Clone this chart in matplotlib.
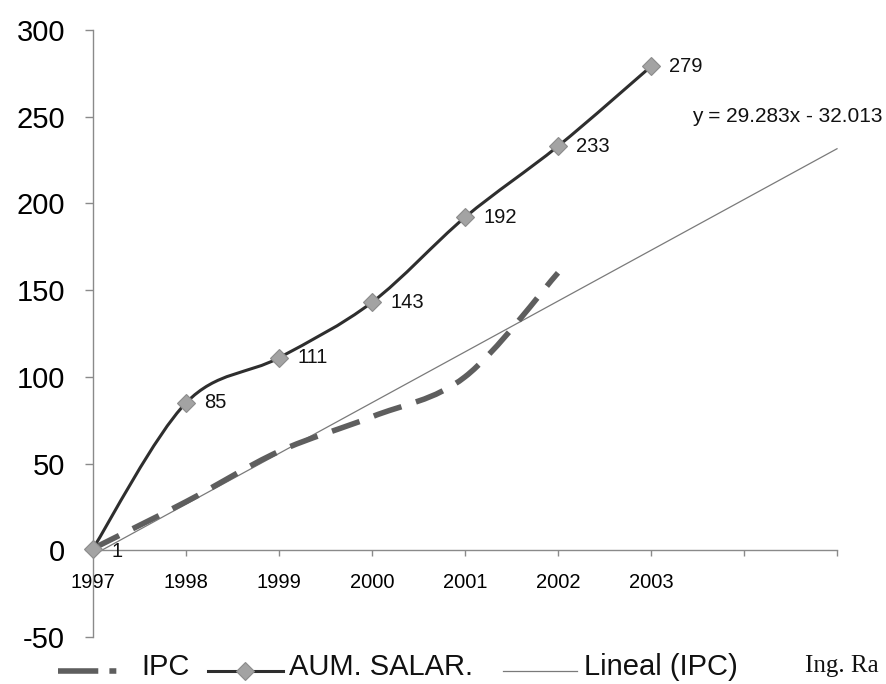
import numpy as np
import matplotlib
matplotlib.use("Agg")
import matplotlib.pyplot as plt
from matplotlib.path import Path
from matplotlib.patches import PathPatch
from matplotlib.lines import Line2D

plt.rcParams['font.family'] = ['Liberation Sans', 'DejaVu Sans']
plt.rcParams['lines.scale_dashes'] = False
plt.rcParams['axes.unicode_minus'] = False

# ---- data ----
years = ['1997', '1998', '1999', '2000', '2001', '2002', '2003']
year_pos = [1, 2, 3, 4, 5, 6, 7]
salary = [1, 85, 111, 143, 192, 233, 279]          # AUM. SALAR.
ipc_pos = [1, 2, 3, 4, 5, 6]
ipc = [1, 28, 57, 77, 100, 160]                     # IPC
trend_slope = 29.283
trend_intercept = -32.013
trend_range = [1, 9]                                # trendline incl. forecast
x_ticks = [1, 2, 3, 4, 5, 6, 7, 8, 9]
x_tick_labels = years + ['', '']
y_ticks = [-50, 0, 50, 100, 150, 200, 250, 300]
equation = 'y = 29.283x - 32.013'


def smooth_path(xs, ys):
    pts = np.column_stack([xs, ys]).astype(float)
    n = len(pts)
    verts = [pts[0]]
    codes = [Path.MOVETO]
    for i in range(n - 1):
        p0 = pts[i - 1] if i > 0 else pts[i]
        p1 = pts[i]
        p2 = pts[i + 1]
        p3 = pts[i + 2] if i + 2 < n else pts[i + 1]
        c1 = p1 + (p2 - p0) / 6.0
        c2 = p2 - (p3 - p1) / 6.0
        verts += [c1, c2, p2]
        codes += [Path.CURVE4] * 3
    return Path(verts, codes)


W, H = 887, 684
fig = plt.figure(figsize=(W / 100, H / 100), dpi=100)
ax = fig.add_axes([93 / W, 1 - 637 / H, (837 - 93) / W, (637 - 30) / H])
ax.set_xlim(1, 9)
ax.set_ylim(-50, 300)

axis_col = '#8a8a8a'
for s in ['top', 'right']:
    ax.spines[s].set_visible(False)
ax.spines['bottom'].set_position(('data', 0))
for s in ['left', 'bottom']:
    ax.spines[s].set_color(axis_col)
    ax.spines[s].set_linewidth(1.0)

ax.set_xticks(x_ticks)
ax.set_xticklabels(x_tick_labels)
ax.set_yticks(y_ticks)
ax.tick_params(axis='y', direction='out', length=6, width=1, color=axis_col,
               pad=14, labelsize=21)
ax.tick_params(axis='x', direction='out', length=4, width=1, color=axis_col,
               pad=12.5, labelsize=14.5)

# trendline
tx = np.array(trend_range, dtype=float)
ax.plot(tx, trend_slope * tx + trend_intercept, color='#7a7a7a', lw=0.9,
        zorder=2, clip_on=False)

# IPC smooth dashed line
ipc_patch = PathPatch(smooth_path(ipc_pos, ipc), fill=False, edgecolor='#5e5e5e',
                      lw=4.0, linestyle=(0, (21, 11)), capstyle='butt',
                      zorder=3, clip_on=False)
ax.add_patch(ipc_patch)

# Salary smooth line + markers
sal_patch = PathPatch(smooth_path(year_pos, salary), fill=False, edgecolor='#2e2e2e',
                      lw=2.2, zorder=4, clip_on=False)
ax.add_patch(sal_patch)
ax.plot(year_pos, salary, linestyle='none', marker='D', ms=9.5,
        markerfacecolor='#a3a3a3', markeredgecolor='#8c8c8c', mew=0.8,
        zorder=5, clip_on=False)

for xp, v in zip(year_pos, salary):
    dy = -2 if v < 5 else 0
    ax.annotate(str(v), (xp, v), xytext=(13, dy), textcoords='offset points',
                ha='left', va='center', fontsize=14.5, color='#111111', zorder=6)

ax.text(7.44, 250, equation, ha='left', va='center', fontsize=15, color='#111111')


# ---- manual legend (pixel positions) ----
def fx(x):
    return x / W


def fy(y):
    return 1 - y / H


yl = 671
fig.add_artist(Line2D([fx(58), fx(118)], [fy(yl), fy(yl)], color='#5e5e5e', lw=4.0,
                      linestyle=(0, (29, 8, 5, 40)), solid_capstyle='butt',
                      dash_capstyle='butt'))
fig.text(fx(141), fy(667), 'IPC', ha='left', va='center', fontsize=21, color='#111111')
fig.add_artist(Line2D([fx(208), fx(283)], [fy(yl), fy(yl)], color='#2e2e2e', lw=2.2))
fig.add_artist(Line2D([fx(245)], [fy(yl)], linestyle='none', marker='D', ms=9.5,
                      markerfacecolor='#a3a3a3', markeredgecolor='#8c8c8c', mew=0.8))
fig.text(fx(289), fy(667), 'AUM. SALAR.', ha='left', va='center', fontsize=21,
         color='#111111')
fig.add_artist(Line2D([fx(503), fx(577)], [fy(yl), fy(yl)], color='#7a7a7a', lw=0.9))
fig.text(fx(584), fy(667), 'Lineal (IPC)', ha='left', va='center', fontsize=21,
         color='#111111')
fig.text(fx(805), fy(666), 'Ing. Ra', ha='left', va='center', fontsize=18,
         family=['Liberation Serif', 'DejaVu Serif'], color='#111111')

fig.savefig('out.png', dpi=100, facecolor='white')
